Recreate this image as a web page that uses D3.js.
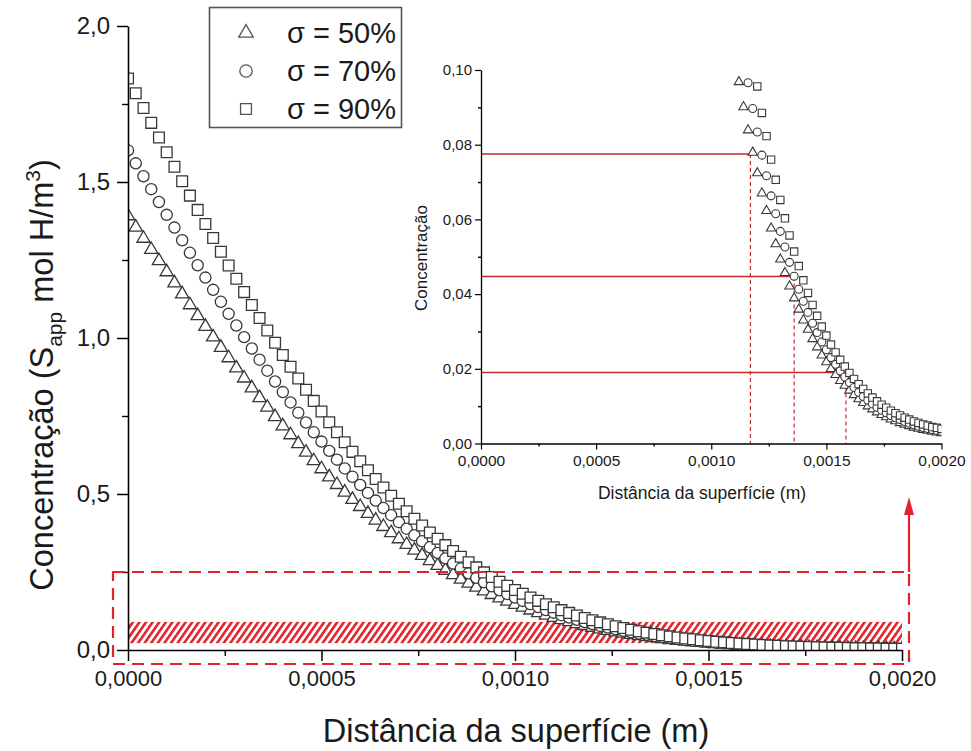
<!DOCTYPE html>
<html>
<head>
<meta charset="utf-8">
<script src="https://cdn.jsdelivr.net/npm/d3@7"></script>
<style>
  body { margin: 0; background: #fff; }
  svg { display: block; }
  text { font-family: Arial, "Liberation Sans", sans-serif; fill: #1a1a1a; }
</style>
</head>
<body>
<svg id="chart" width="971" height="751"></svg>
<script>
// Depth below the surface (m), one sample every 20 µm
const distance = [
  0.00000, 0.00002, 0.00004, 0.00006, 0.00008, 0.00010, 0.00012, 0.00014, 0.00016, 0.00018,
  0.00020, 0.00022, 0.00024, 0.00026, 0.00028, 0.00030, 0.00032, 0.00034, 0.00036, 0.00038,
  0.00040, 0.00042, 0.00044, 0.00046, 0.00048, 0.00050, 0.00052, 0.00054, 0.00056, 0.00058,
  0.00060, 0.00062, 0.00064, 0.00066, 0.00068, 0.00070, 0.00072, 0.00074, 0.00076, 0.00078,
  0.00080, 0.00082, 0.00084, 0.00086, 0.00088, 0.00090, 0.00092, 0.00094, 0.00096, 0.00098,
  0.00100, 0.00102, 0.00104, 0.00106, 0.00108, 0.00110, 0.00112, 0.00114, 0.00116, 0.00118,
  0.00120, 0.00122, 0.00124, 0.00126, 0.00128, 0.00130, 0.00132, 0.00134, 0.00136, 0.00138,
  0.00140, 0.00142, 0.00144, 0.00146, 0.00148, 0.00150, 0.00152, 0.00154, 0.00156, 0.00158,
  0.00160, 0.00162, 0.00164, 0.00166, 0.00168, 0.00170, 0.00172, 0.00174, 0.00176, 0.00178,
  0.00180, 0.00182, 0.00184, 0.00186, 0.00188, 0.00190, 0.00192, 0.00194, 0.00196, 0.00198,
  0.00200
];

// Hydrogen concentration profiles (mol H/m³) for each stress level
const sigma50 = [
  1.3912, 1.3551, 1.3191, 1.2832, 1.2474, 1.2117, 1.1762, 1.1410, 1.1060, 1.0713,
  1.0369, 1.0029, 0.9695, 0.9361, 0.9036, 0.8712, 0.8396, 0.8083, 0.7777, 0.7476,
  0.7181, 0.6893, 0.6609, 0.6335, 0.6062, 0.5803, 0.5544, 0.5299, 0.5055, 0.4822,
  0.4593, 0.4373, 0.4160, 0.3953, 0.3755, 0.3560, 0.3378, 0.3196, 0.3028, 0.2860,
  0.2705, 0.2551, 0.2408, 0.2268, 0.2135, 0.2009, 0.1887, 0.1774, 0.1662, 0.1560,
  0.1458, 0.1367, 0.1277, 0.1194, 0.1114, 0.1039, 0.0968, 0.0901, 0.0839, 0.0779,
  0.0724, 0.0670, 0.0623, 0.0576, 0.0534, 0.0493, 0.0457, 0.0421, 0.0389, 0.0359,
  0.0330, 0.0305, 0.0280, 0.0258, 0.0236, 0.0218, 0.0200, 0.0184, 0.0168, 0.0155,
  0.0142, 0.0130, 0.0119, 0.0109, 0.0100, 0.0092, 0.0084, 0.0077, 0.0071, 0.0065,
  0.0060, 0.0055, 0.0051, 0.0047, 0.0043, 0.0040, 0.0037, 0.0035, 0.0032, 0.0030,
  0.0028
];
const sigma70 = [
  1.6014, 1.5599, 1.5185, 1.4771, 1.4359, 1.3948, 1.3539, 1.3134, 1.2731, 1.2331,
  1.1936, 1.1544, 1.1160, 1.0775, 1.0401, 1.0028, 0.9664, 0.9304, 0.8952, 0.8605,
  0.8266, 0.7934, 0.7607, 0.7292, 0.6978, 0.6680, 0.6382, 0.6100, 0.5819, 0.5551,
  0.5288, 0.5034, 0.4789, 0.4550, 0.4322, 0.4098, 0.3888, 0.3678, 0.3485, 0.3292,
  0.3113, 0.2937, 0.2771, 0.2611, 0.2458, 0.2313, 0.2173, 0.2042, 0.1913, 0.1796,
  0.1679, 0.1574, 0.1470, 0.1375, 0.1282, 0.1197, 0.1115, 0.1038, 0.0966, 0.0897,
  0.0834, 0.0772, 0.0717, 0.0663, 0.0615, 0.0568, 0.0526, 0.0485, 0.0448, 0.0413,
  0.0381, 0.0351, 0.0322, 0.0297, 0.0272, 0.0251, 0.0230, 0.0212, 0.0194, 0.0178,
  0.0163, 0.0150, 0.0137, 0.0126, 0.0116, 0.0106, 0.0097, 0.0089, 0.0082, 0.0075,
  0.0069, 0.0064, 0.0059, 0.0054, 0.0050, 0.0046, 0.0043, 0.0040, 0.0037, 0.0035,
  0.0032
];
const sigma90 = [
  1.8318, 1.7843, 1.7369, 1.6896, 1.6425, 1.5955, 1.5488, 1.5024, 1.4563, 1.4106,
  1.3653, 1.3206, 1.2766, 1.2326, 1.1898, 1.1471, 1.1056, 1.0643, 1.0241, 0.9845,
  0.9456, 0.9077, 0.8703, 0.8342, 0.7984, 0.7643, 0.7302, 0.6978, 0.6657, 0.6351,
  0.6050, 0.5760, 0.5479, 0.5206, 0.4946, 0.4689, 0.4449, 0.4209, 0.3988, 0.3768,
  0.3563, 0.3361, 0.3172, 0.2988, 0.2814, 0.2648, 0.2487, 0.2337, 0.2190, 0.2056,
  0.1922, 0.1803, 0.1683, 0.1575, 0.1469, 0.1371, 0.1277, 0.1189, 0.1107, 0.1027,
  0.0956, 0.0885, 0.0823, 0.0760, 0.0706, 0.0652, 0.0603, 0.0557, 0.0514, 0.0475,
  0.0437, 0.0403, 0.0371, 0.0342, 0.0313, 0.0289, 0.0265, 0.0244, 0.0224, 0.0206,
  0.0189, 0.0173, 0.0159, 0.0146, 0.0134, 0.0123, 0.0113, 0.0104, 0.0096, 0.0088,
  0.0081, 0.0075, 0.0069, 0.0064, 0.0059, 0.0055, 0.0051, 0.0048, 0.0044, 0.0042,
  0.0039
];
const seriesLabels = ["σ = 50%", "σ = 70%", "σ = 90%"];

// Axis ticks
const mainYTicks = [0, 0.5, 1.0, 1.5, 2.0];
const mainYMinor = [0.25, 0.75, 1.25, 1.75];
const xTicks = [0, 0.0005, 0.0010, 0.0015, 0.0020];
const xMinor = [0.00025, 0.00075, 0.00125, 0.00175];
const insetYTicks = [0, 0.02, 0.04, 0.06, 0.08, 0.10];
const insetYMinor = [0.01, 0.03, 0.05, 0.07, 0.09];

// Critical concentration levels and the depth at which each profile reaches them
const criticalLevels = [0.0775, 0.0447, 0.0190];
const criticalDepths = [0.00117, 0.00136, 0.001585];

// Concentration band highlighted on the main plot, and the enlarged window
const bandLow = 0.022, bandHigh = 0.090;
const windowTop = 0.25;

const RED = "#e3222b";
const DARK_RED = "#c42a30";
const MARK = "#383838";

const pt = d3.formatLocale({ decimal: ",", thousands: ".", grouping: [3], currency: ["", ""] });
const svg = d3.select("#chart");
const defs = svg.append("defs");

// ---------- main plot ----------
const x = d3.scaleLinear().domain([0, 0.002]).range([128, 902]);
const y = d3.scaleLinear().domain([0, 2.0]).range([650, 26]);

defs.append("clipPath").attr("id", "clipMain").append("rect")
  .attr("x", x(0)).attr("y", 0).attr("width", x(0.002) - x(0)).attr("height", y(0));

const hatch = defs.append("pattern").attr("id", "hatch")
  .attr("patternUnits", "userSpaceOnUse").attr("width", 5.4).attr("height", 5.4)
  .attr("patternTransform", "rotate(35)");
hatch.append("rect").attr("width", 5.4).attr("height", 5.4).attr("fill", "#fff");
hatch.append("rect").attr("width", 2.6).attr("height", 5.4).attr("fill", RED);

svg.append("rect")
  .attr("x", x(0) + 1).attr("y", y(bandHigh))
  .attr("width", x(0.002) - x(0) - 1).attr("height", y(bandLow) - y(bandHigh))
  .attr("fill", "url(#hatch)");

const series = [
  { values: sigma50, symbol: d3.symbolTriangle, size: 76, isize: 38, lsize: 92 },
  { values: sigma70, symbol: d3.symbolCircle, size: 98, isize: 50, lsize: 120 },
  { values: sigma90, symbol: d3.symbolSquare, size: 116, isize: 54, lsize: 118 }
];

const mainMarks = svg.append("g").attr("clip-path", "url(#clipMain)");
series.forEach(s => {
  const pts = distance.map((d, i) => ({ d, c: s.values[i] }));
  mainMarks.append("g").selectAll("path").data(pts).join("path")
    .attr("d", d3.symbol(s.symbol, s.size))
    .attr("transform", p => `translate(${x(p.d)},${y(p.c)})`)
    .attr("fill", "#fff").attr("stroke", MARK).attr("stroke-width", 1.3);
});

function styleAxis(g, fontSize) {
  g.select(".domain").attr("stroke", "#000").attr("stroke-width", 1.6);
  g.selectAll(".tick line").attr("stroke", "#000").attr("stroke-width", 1.5);
  g.selectAll(".tick text").style("font-size", fontSize + "px").attr("fill", "#1a1a1a")
    .style("font-family", "Arial, 'Liberation Sans', sans-serif");
}
function minorAxis(g) {
  g.select(".domain").remove();
  g.selectAll(".tick line").attr("stroke", "#000").attr("stroke-width", 1.4);
}

const gy = svg.append("g").attr("transform", `translate(${x(0)},0)`)
  .call(d3.axisLeft(y).tickValues(mainYTicks).tickSize(11).tickSizeOuter(0).tickPadding(7)
    .tickFormat(pt.format(".1f")));
styleAxis(gy, 24);
svg.append("g").attr("transform", `translate(${x(0)},0)`)
  .call(d3.axisLeft(y).tickValues(mainYMinor).tickSize(6).tickFormat("")).call(minorAxis);

const gx = svg.append("g").attr("transform", `translate(0,${y(0)})`)
  .call(d3.axisBottom(x).tickValues(xTicks).tickSize(11).tickSizeOuter(0).tickPadding(9)
    .tickFormat(pt.format(".4f")));
styleAxis(gx, 22);
svg.append("g").attr("transform", `translate(0,${y(0)})`)
  .call(d3.axisBottom(x).tickValues(xMinor).tickSize(6).tickFormat("")).call(minorAxis);

svg.append("text").attr("x", 516).attr("y", 742).attr("text-anchor", "middle")
  .style("font-size", "32.5px").text("Distância da superfície (m)");

const yTitle = svg.append("text").attr("transform", "translate(53,375) rotate(-90)")
  .attr("text-anchor", "middle").style("font-size", "32.5px");
yTitle.append("tspan").text("Concentração (S");
yTitle.append("tspan").attr("dy", 9).style("font-size", "21px").text("app");
yTitle.append("tspan").attr("dy", -9).text(" mol H/m");
yTitle.append("tspan").attr("dy", -13).style("font-size", "21px").text("3");
yTitle.append("tspan").attr("dy", 13).text(")");

// Dashed window around the low-concentration region, with arrow towards the inset
const winLeft = 113, winRight = 909, winBottom = 664;
svg.append("rect")
  .attr("x", winLeft).attr("y", y(windowTop))
  .attr("width", winRight - winLeft).attr("height", winBottom - y(windowTop))
  .attr("fill", "none").attr("stroke", RED).attr("stroke-width", 2.2)
  .attr("stroke-dasharray", "12,7");
svg.append("line").attr("x1", winRight).attr("x2", winRight)
  .attr("y1", y(windowTop)).attr("y2", 512)
  .attr("stroke", RED).attr("stroke-width", 2.2);
svg.append("path").attr("d", `M${winRight},497 L${winRight - 5},515 L${winRight + 5},515 Z`)
  .attr("fill", RED);

// Legend
const legend = svg.append("g");
legend.append("rect").attr("x", 209.5).attr("y", 7.5).attr("width", 192).attr("height", 120)
  .attr("fill", "#fff").attr("stroke", "#555").attr("stroke-width", 1.6);
series.forEach((s, i) => {
  const cy = 33 + i * 38;
  legend.append("path").attr("d", d3.symbol(s.symbol, s.lsize))
    .attr("transform", `translate(246,${cy})`)
    .attr("fill", "#fff").attr("stroke", "#555").attr("stroke-width", 1.3);
  legend.append("text").attr("x", 287).attr("y", cy).attr("dy", "0.36em")
    .style("font-size", "29px").text(seriesLabels[i]);
});

// ---------- inset: enlarged view of the low-concentration tail ----------
const xi = d3.scaleLinear().domain([0, 0.002]).range([481, 941.5]);
const yi = d3.scaleLinear().domain([0, 0.10]).range([443.5, 70]);

defs.append("clipPath").attr("id", "clipInset").append("rect")
  .attr("x", xi(0)).attr("y", yi(0.10) - 6).attr("width", xi(0.002) - xi(0)).attr("height", yi(0) - yi(0.10) + 6);

const inset = svg.append("g");

criticalLevels.forEach((c, i) => {
  inset.append("line")
    .attr("x1", xi(0)).attr("x2", xi(criticalDepths[i]) + 3)
    .attr("y1", yi(c)).attr("y2", yi(c))
    .attr("stroke", DARK_RED).attr("stroke-width", 1.6);
  inset.append("line")
    .attr("x1", xi(criticalDepths[i])).attr("x2", xi(criticalDepths[i]))
    .attr("y1", yi(c)).attr("y2", yi(0))
    .attr("stroke", DARK_RED).attr("stroke-width", 1.2).attr("stroke-dasharray", "4,3");
});

const insetMarks = inset.append("g").attr("clip-path", "url(#clipInset)");
series.forEach(s => {
  const pts = distance.map((d, i) => ({ d, c: s.values[i] })).filter(p => p.c <= 0.10);
  insetMarks.append("g").selectAll("path").data(pts).join("path")
    .attr("d", d3.symbol(s.symbol, s.isize))
    .attr("transform", p => `translate(${xi(p.d)},${yi(p.c)})`)
    .attr("fill", "#fff").attr("stroke", MARK).attr("stroke-width", 1.1);
});

const giy = inset.append("g").attr("transform", `translate(${xi(0)},0)`)
  .call(d3.axisLeft(yi).tickValues(insetYTicks).tickSize(6).tickSizeOuter(0).tickPadding(3)
    .tickFormat(pt.format(".2f")));
styleAxis(giy, 15);
giy.select(".domain").attr("stroke-width", 1.3);
giy.selectAll(".tick line").attr("stroke-width", 1.2);
inset.append("g").attr("transform", `translate(${xi(0)},0)`)
  .call(d3.axisLeft(yi).tickValues(insetYMinor).tickSize(3).tickFormat("")).call(minorAxis);

const gix = inset.append("g").attr("transform", `translate(0,${yi(0)})`)
  .call(d3.axisBottom(xi).tickValues(xTicks).tickSize(6).tickSizeOuter(0).tickPadding(5)
    .tickFormat(pt.format(".4f")));
styleAxis(gix, 15.5);
gix.select(".domain").attr("stroke-width", 1.3);
gix.selectAll(".tick line").attr("stroke-width", 1.2);
inset.append("g").attr("transform", `translate(0,${yi(0)})`)
  .call(d3.axisBottom(xi).tickValues(xMinor).tickSize(3).tickFormat("")).call(minorAxis);

inset.append("text").attr("x", 702).attr("y", 499).attr("text-anchor", "middle")
  .style("font-size", "17.5px").text("Distância da superfície (m)");
inset.append("text").attr("transform", "translate(427,258) rotate(-90)")
  .attr("text-anchor", "middle").style("font-size", "17px").text("Concentração");
</script>
</body>
</html>
